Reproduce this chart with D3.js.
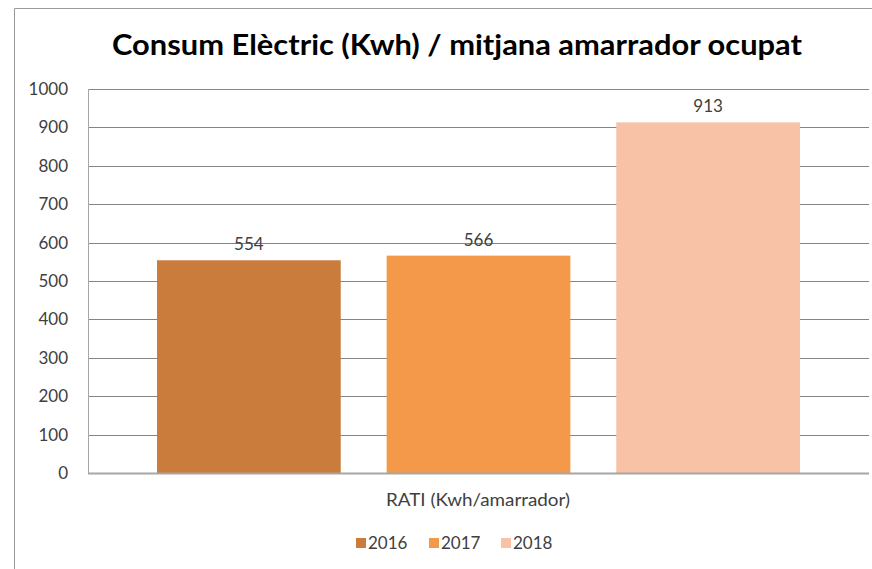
<!DOCTYPE html>
<html>
<head>
<meta charset="utf-8">
<script src="https://cdn.jsdelivr.net/npm/d3@7"></script>
<style>
  body { margin: 0; background: #fff; }
  text { font-family: Lato, "Open Sans", sans-serif; }
</style>
</head>
<body>
<div id="chart"></div>
<script>
const title = "Consum Elèctric (Kwh) / mitjana amarrador ocupat";
const category = "RATI (Kwh/amarrador)";
const years = ["2016", "2017", "2018"];
const values = [554, 566, 913];
const colors = ["#C97C3B", "#F4984A", "#F7C2A6"];
const yTicks = [0, 100, 200, 300, 400, 500, 600, 700, 800, 900, 1000];

const width = 872, height = 569;
const svg = d3.select("#chart").append("svg")
    .attr("width", width)
    .attr("height", height);

// frame
svg.append("path")
    .attr("d", `M14.5,${height} V8.5 H${width}`)
    .attr("fill", "none")
    .attr("stroke", "#9a9a9a")
    .attr("stroke-width", 1);

const plotLeft = 88, plotRight = 869, plotTop = 89, plotBottom = 473;

const y = d3.scaleLinear().domain([0, 1000]).range([plotBottom, plotTop]);
const x = d3.scaleBand().domain(years).range([157, 800]).paddingInner(0.2);

// gridlines
svg.append("g").selectAll("line")
    .data(yTicks.slice(1))
    .join("line")
    .attr("x1", plotLeft).attr("x2", plotRight)
    .attr("y1", d => Math.round(y(d)) + 0.5)
    .attr("y2", d => Math.round(y(d)) + 0.5)
    .attr("stroke", "#858585")
    .attr("stroke-width", 1);

// y axis labels
svg.append("g").selectAll("text")
    .data(yTicks)
    .join("text")
    .attr("x", 68)
    .attr("y", d => y(d) + 6)
    .attr("text-anchor", "end")
    .attr("font-size", 17)
    .attr("fill", "#404040")
    .text(d => d);

// bars
svg.append("g").selectAll("rect")
    .data(values)
    .join("rect")
    .attr("x", (d, i) => x(years[i]))
    .attr("width", x.bandwidth())
    .attr("y", d => y(d))
    .attr("height", d => plotBottom - y(d))
    .attr("fill", (d, i) => colors[i]);

// data labels
svg.append("g").selectAll("text")
    .data(values)
    .join("text")
    .attr("x", (d, i) => x(years[i]) + x.bandwidth() / 2)
    .attr("y", d => y(d) - 10)
    .attr("text-anchor", "middle")
    .attr("font-size", 17)
    .attr("fill", "#404040")
    .text(d => d);

// axes lines
svg.append("line")
    .attr("x1", plotLeft + 0.5).attr("x2", plotLeft + 0.5)
    .attr("y1", plotTop).attr("y2", plotBottom)
    .attr("stroke", "#a6a6a6");
svg.append("line")
    .attr("x1", plotLeft).attr("x2", plotRight)
    .attr("y1", plotBottom + 0.5).attr("y2", plotBottom + 0.5)
    .attr("stroke", "#a6a6a6")
    .attr("stroke-width", 2);

// category label
svg.append("text")
    .attr("x", 478)
    .attr("y", 506)
    .attr("text-anchor", "middle")
    .attr("font-size", 17)
    .attr("fill", "#404040")
    .attr("textLength", 184)
    .attr("lengthAdjust", "spacingAndGlyphs")
    .text(category);

// title
svg.append("text")
    .attr("x", 457)
    .attr("y", 55)
    .attr("text-anchor", "middle")
    .attr("font-size", 28)
    .attr("font-weight", "bold")
    .attr("fill", "#000")
    .attr("textLength", 690)
    .attr("lengthAdjust", "spacingAndGlyphs")
    .text(title);

// legend
const legendX = [356, 429, 501];
const legend = svg.append("g").selectAll("g")
    .data(years)
    .join("g")
    .attr("transform", (d, i) => `translate(${legendX[i]},538)`);
legend.append("rect")
    .attr("width", 10).attr("height", 10)
    .attr("fill", (d, i) => colors[i]);
legend.append("text")
    .attr("x", 12)
    .attr("y", 11)
    .attr("font-size", 17)
    .attr("fill", "#404040")
    .text(d => d);
</script>
</body>
</html>
